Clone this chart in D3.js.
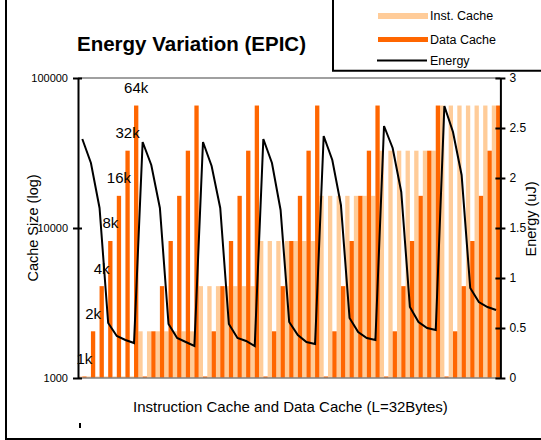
<!DOCTYPE html>
<html><head><meta charset="utf-8">
<script src="https://cdn.jsdelivr.net/npm/d3@7"></script>
<style>body{margin:0;background:#fff}text{font-family:"Liberation Sans",Arial,sans-serif}</style>
</head><body><svg id="c" width="541" height="440"></svg>
<script>
// Cache sizes in KB for each of 49 configurations (inst, data)
const instKB = [1,1,1,1,1,1,1, 2,2,2,2,2,2,2, 4,4,4,4,4,4,4, 8,8,8,8,8,8,8, 16,16,16,16,16,16,16, 32,32,32,32,32,32,32, 64,64,64,64,64,64,64];
const dataKB = [1,2,4,8,16,32,64, 1,2,4,8,16,32,64, 1,2,4,8,16,32,64, 1,2,4,8,16,32,64, 1,2,4,8,16,32,64, 1,2,4,8,16,32,64, 1,2,4,8,16,32,64];
const energy = [2.39,2.15,1.70,0.55,0.42,0.38,0.35,
                2.36,2.13,1.70,0.54,0.40,0.36,0.32,
                2.36,2.12,1.70,0.54,0.40,0.37,0.32,
                2.39,2.15,1.68,0.56,0.43,0.36,0.34,
                2.42,2.18,1.73,0.60,0.46,0.40,0.38,
                2.52,2.30,1.86,0.71,0.56,0.50,0.48,
                2.72,2.46,2.03,0.90,0.76,0.71,0.68];
const sizeLabels = ["1k","2k","4k","8k","16k","32k","64k"];
const leftTicks = [1000,10000,100000];
const rightTicks = [0,0.5,1,1.5,2,2.5,3];

const svg = d3.select("#c");
const L=78, R=500.4, T=78, B=378;
const idx = d3.range(instKB.length);
const x = d3.scaleBand().domain(idx).range([L,R]).padding(0);
const sub = d3.scaleBand().domain(["inst","data"]).range([0,x.bandwidth()]);
const yL = d3.scaleLog().domain([1000,100000]).range([B,T]);
const yR = d3.scaleLinear().domain([0,3]).range([B,T]);
const cInst="#FFCC99", cData="#FF6600";

// frame
svg.append("line").attr("x1",6).attr("x2",6).attr("y1",0).attr("y2",440).attr("stroke","#000").attr("stroke-width",2);
svg.append("line").attr("x1",5).attr("x2",541).attr("y1",439).attr("y2",439).attr("stroke","#000").attr("stroke-width",2);
svg.append("rect").attr("x",79).attr("y",423).attr("width",2).attr("height",5).attr("fill","#000");

// bars
svg.append("g").selectAll("rect").data(idx).join("rect")
  .attr("x",i=>x(i)+sub("inst")).attr("width",sub.bandwidth())
  .attr("y",i=>yL(instKB[i]*1024)).attr("height",i=>B-yL(instKB[i]*1024)).attr("fill",cInst);
svg.append("g").selectAll("rect").data(idx).join("rect")
  .attr("x",i=>x(i)+sub("data")).attr("width",sub.bandwidth())
  .attr("y",i=>yL(dataKB[i]*1024)).attr("height",i=>B-yL(dataKB[i]*1024)).attr("fill",cData);

// plot borders
svg.append("line").attr("x1",L).attr("x2",R).attr("y1",T).attr("y2",T).attr("stroke","#808080").attr("stroke-width",1.5);
svg.append("line").attr("x1",L).attr("x2",R).attr("y1",B).attr("y2",B).attr("stroke","#808080").attr("stroke-width",1.5);

// axes
const axL = d3.axisLeft(yL).tickValues(leftTicks).tickFormat(d3.format("d")).tickSizeInner(5).tickSizeOuter(0).tickPadding(6);
const gL = svg.append("g").attr("transform",`translate(${L},0)`).call(axL);
gL.select(".domain").attr("stroke","#000").attr("stroke-width",2);
gL.selectAll(".tick line").attr("stroke","#000").attr("stroke-width",2).attr("x2",4).attr("x1",-5);
gL.selectAll(".tick text").attr("font-size",11).attr("font-family","Liberation Sans, Arial, sans-serif").attr("x",-10);

const axR = d3.axisRight(yR).tickValues(rightTicks).tickFormat(d=>String(d)).tickSizeOuter(0).tickPadding(8);
const gR = svg.append("g").attr("transform",`translate(${R},0)`).call(axR);
gR.select(".domain").attr("stroke","#000").attr("stroke-width",2);
gR.selectAll(".tick line").attr("stroke","#000").attr("stroke-width",2).attr("x1",-5).attr("x2",5);
gR.selectAll(".tick text").attr("font-size",12).attr("font-family","Liberation Sans, Arial, sans-serif").attr("x",9);

// energy line
const line = d3.line().x(i=>x(i)+x.bandwidth()/2).y(i=>yR(energy[i]));
svg.append("path").datum(idx).attr("d",line).attr("fill","none").attr("stroke","#000").attr("stroke-width",2);

// data labels on first group
svg.append("g").selectAll("text").data(sizeLabels).join("text")
  .attr("x",(d,i)=>x(i)+sub("data")+sub.bandwidth()/2)
  .attr("y",(d,i)=>yL(dataKB[i]*1024)-12.5)
  .attr("text-anchor","middle").attr("font-size",15).attr("fill","#000").text(d=>d);

// titles
svg.append("text").attr("x",77).attr("y",51).attr("font-size",20.5).attr("font-weight","bold").text("Energy Variation (EPIC)");
svg.append("text").attr("transform","translate(38,228) rotate(-90)").attr("text-anchor","middle").attr("font-size",14.5).text("Cache Size (log)");
svg.append("text").attr("transform","translate(536,219) rotate(-90)").attr("text-anchor","middle").attr("font-size",14.5).text("Energy (uJ)");
svg.append("text").attr("x",290.5).attr("y",412).attr("text-anchor","middle").attr("font-size",15).text("Instruction Cache and Data Cache (L=32Bytes)");

// legend
const lg = svg.append("g");
lg.append("path").attr("d","M333,0 V70.7 H541").attr("fill","none").attr("stroke","#000").attr("stroke-width",2);
lg.append("rect").attr("x",378).attr("y",13).attr("width",50).attr("height",6).attr("fill",cInst);
lg.append("rect").attr("x",378).attr("y",37).attr("width",50).attr("height",5).attr("fill",cData);
lg.append("line").attr("x1",377).attr("x2",427).attr("y1",60.5).attr("y2",60.5).attr("stroke","#000").attr("stroke-width",2);
const lt = ["Inst. Cache","Data Cache","Energy"], ly=[16,39.5,61];
lg.selectAll("text.l").data(lt).join("text").attr("class","l").attr("x",430).attr("y",(d,i)=>ly[i]).attr("dy","0.35em").attr("font-size",12.5).text(d=>d);
</script></body></html>
